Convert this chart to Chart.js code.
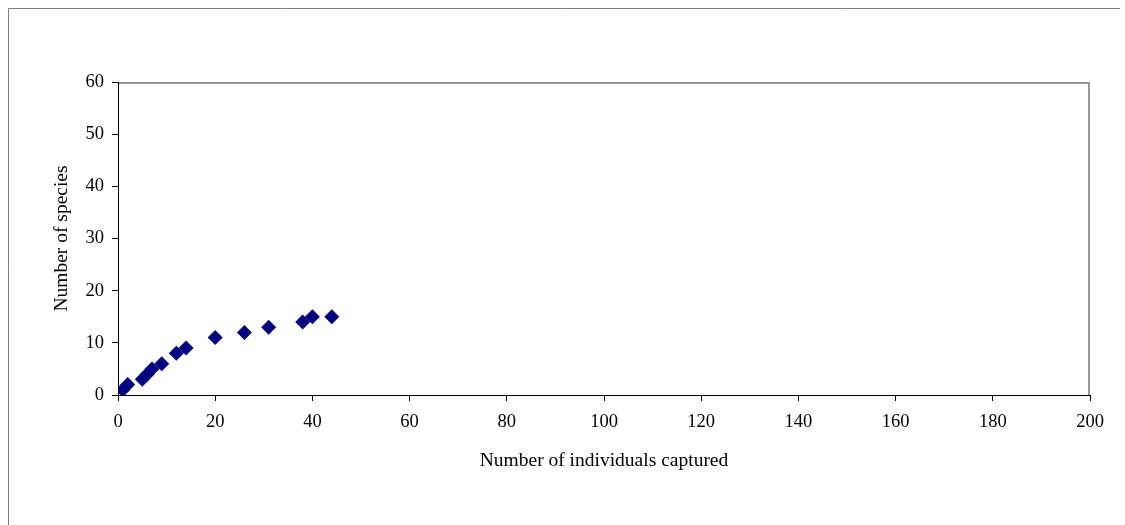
<!DOCTYPE html>
<html>
<head>
<meta charset="utf-8">
<script src="https://cdn.jsdelivr.net/npm/chart.js@4"></script>
<style>
  html, body { margin: 0; padding: 0; background: #fff; }
</style>
</head>
<body>
<canvas id="accum" width="1125" height="525"></canvas>
<script>
// species accumulation: individuals captured vs species found
const individuals = [1, 2, 5, 6, 7, 9, 12, 14, 20, 26, 31, 38, 40, 44];
const species = [1, 2, 3, 4, 5, 6, 8, 9, 11, 12, 13, 14, 15, 15];
const xTicks = [0, 20, 40, 60, 80, 100, 120, 140, 160, 180, 200];
const yTicks = [0, 10, 20, 30, 40, 50, 60];

const serif = "'Liberation Serif', 'Times New Roman', serif";

const frames = {
    id: 'frames',
    beforeDraw(chart) {
        const c = chart.ctx;
        c.save();
        c.strokeStyle = '#7f7f7f';
        c.lineWidth = 1;
        c.beginPath();
        c.moveTo(8.5, 525);
        c.lineTo(8.5, 8.5);
        c.lineTo(1120, 8.5);
        c.stroke();
        const a = chart.chartArea;
        c.strokeStyle = '#999';
        c.lineWidth = 2;
        c.beginPath();
        c.moveTo(a.left, a.top + 1);
        c.lineTo(a.right - 1, a.top + 1);
        c.lineTo(a.right - 1, a.bottom);
        c.stroke();
        c.restore();
    }
};

new Chart('accum', {
    type: 'scatter',
    data: {
        datasets: [{
            label: 'Species',
            data: individuals.map((v, i) => ({ x: v, y: species[i] })),
            pointStyle: 'rectRot',
            pointRadius: 7.5,
            backgroundColor: '#000080',
            borderColor: '#000080',
            borderWidth: 0
        }]
    },
    options: {
        responsive: false,
        animation: false,
        layout: { padding: { left: 46, top: 82, right: 35, bottom: 48 } },
        plugins: { legend: { display: false }, tooltip: { enabled: false } },
        scales: {
            x: {
                type: 'linear',
                min: 0, max: 200,
                afterBuildTicks: s => { s.ticks = xTicks.map(v => ({ value: v })); },
                afterFit: s => { s.height = 82; },
                grid: { drawOnChartArea: false, tickLength: 6, color: '#000' },
                border: { color: '#000', width: 1 },
                ticks: { color: '#000', padding: 10, maxRotation: 0, autoSkip: false, font: { family: serif, size: 18.5 } },
                title: { display: true, text: 'Number of individuals captured', color: '#000', font: { family: serif, size: 19.5 } }
            },
            y: {
                type: 'linear',
                min: 0, max: 60,
                afterBuildTicks: s => { s.ticks = yTicks.map(v => ({ value: v })); },
                afterFit: s => { s.width = 72; },
                grid: { drawOnChartArea: false, tickLength: 6, color: '#000' },
                border: { color: '#000', width: 1 },
                ticks: { color: '#000', padding: 8, autoSkip: false, font: { family: serif, size: 18.5 } },
                title: { display: true, text: 'Number of species', color: '#000', font: { family: serif, size: 19.5 } }
            }
        }
    },
    plugins: [frames]
});
</script>
</body>
</html>
